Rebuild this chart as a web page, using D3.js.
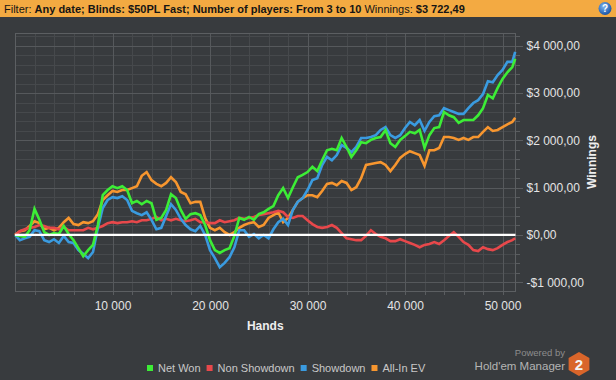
<!DOCTYPE html>
<html>
<head>
<meta charset="utf-8">
<script src="https://cdn.jsdelivr.net/npm/d3@7"></script>
<style>
body { margin: 0; background: #383b3e; }
svg { display: block; font-family: "Liberation Sans", Arial, sans-serif; }
</style>
</head>
<body>
<script>
// hands played, one point every 500 hands
var hands = d3.range(0, 51001, 500).concat([51300]);

var netWon = [
    0, -20, -40, 100, 550, 320, 60, 0, 40, 20,
    190, 20, -110, -280, -450, -320, -210, 210, 840, 950,
    1030, 990, 1030, 950, 670, 720, 650, 720, 670, 320,
    360, 530, 860, 780, 530, 340, 440, 460, 420, 210,
    -110, -320, -380, -320, -280, -20, 360, 320, 380, 320,
    440, 480, 550, 610, 840, 990, 780, 1010, 1220, 1270,
    1330, 1440, 1350, 1580, 1790, 1820, 1790, 2050, 1860, 1650,
    1790, 1960, 1940, 2010, 2050, 2070, 2220, 1940, 1860, 2010,
    2090, 2180, 2150, 2220, 1840, 2110, 2260, 2280, 2600, 2530,
    2490, 2370, 2430, 2430, 2430, 2530, 2680, 2960, 2890, 3110,
    3300, 3440, 3550, 3722.49
];
var nonShowdown = [
    0, 80, 120, 150, 170, 210, 190, 150, 150, 120,
    170, 100, 100, 100, 100, 150, 120, 150, 190, 250,
    270, 250, 270, 270, 290, 270, 310, 310, 340, 380,
    310, 340, 310, 340, 310, 290, 310, 340, 270, 270,
    250, 250, 310, 270, 290, 310, 360, 340, 360, 380,
    420, 440, 460, 480, 510, 480, 380, 360, 400, 400,
    310, 230, 170, 150, 170, 210, 150, 40, -70, -90,
    -110, -110, -20, 100, 20, -40, -70, -130, -130, -90,
    -130, -170, -210, -260, -210, -190, -150, -190, -110, -20,
    60, -40, -150, -210, -320, -340, -260, -300, -320, -280,
    -210, -150, -110, -70
];
var showdown = [
    0, -110, -70, -40, 100, 80, -110, -150, -90, -170,
    -20, -150, -170, -320, -400, -490, -360, 150, 570, 740,
    800, 780, 820, 740, 510, 460, 420, 480, 320, 120,
    150, 400, 650, 530, 340, 210, 120, 80, 190, 0,
    -320, -490, -680, -590, -470, -260, 100, 100, -40, 20,
    -70, 0, -70, 120, 270, 340, 210, 530, 700, 780,
    950, 1160, 1200, 1480, 1650, 1580, 1690, 1900, 1840, 1750,
    1860, 2050, 2050, 2070, 2110, 2220, 2280, 2110, 2050, 2110,
    2260, 2390, 2320, 2430, 2200, 2390, 2510, 2530, 2680, 2640,
    2600, 2560, 2560, 2680, 2790, 2850, 2980, 3250, 3230, 3380,
    3490, 3660, 3660, 3870
];
var allInEv = [
    0, 80, 100, 190, 290, 250, 120, 150, 100, 150,
    270, 360, 230, 210, 270, 250, 290, 440, 740, 840,
    930, 910, 950, 950, 990, 1030, 1250, 1330, 1160, 1080,
    1030, 1100, 1220, 1120, 910, 860, 670, 700, 700, 360,
    150, 100, 150, 60, 0, 60, 150, 210, 250, 270,
    170, 210, 360, 420, 480, 270, 360, 530, 700, 780,
    840, 840, 800, 930, 1080, 1100, 1050, 1140, 1100, 950,
    1010, 1200, 1480, 1500, 1520, 1540, 1480, 1350, 1480, 1630,
    1710, 1770, 1730, 1690, 1460, 1790, 1790, 1840, 2070, 2070,
    2050, 2010, 2050, 2010, 2070, 2070, 2180, 2280, 2200, 2220,
    2280, 2340, 2390, 2480
];

var seriesNames = ["Net Won", "Non Showdown", "Showdown", "All-In EV"];
var seriesValues = [netWon, nonShowdown, showdown, allInEv];
var seriesColors = ["#3ced36", "#e8484b", "#3a9be0", "#f7962f"];
var drawOrder = [3, 1, 2, 0];

var xTicks = [10000, 20000, 30000, 40000, 50000];
var yTicks = [-1000, 0, 1000, 2000, 3000, 4000];

var filterLabel = "Filter: ";
var filterText = "Any date; Blinds: $50PL Fast; Number of players: From 3 to 10";
var winningsLabel = " Winnings: ";
var winningsText = "$3 722,49";

var width = 616;
var height = 380;
var plot = { left: 15, right: 515.5, top: 33, bottom: 291 };

var locale = d3.formatLocale({
    decimal: ",", thousands: " ", grouping: [3], currency: ["$", ""], minus: "-"
});
var fmtMoney = locale.format("$,.2f");
var fmtHands = locale.format(",d");

var svg = d3.select("body")
    .append("svg")
    .attr("width", width)
    .attr("height", height);

svg.append("rect")
    .attr("width", width)
    .attr("height", height)
    .attr("fill", "#383b3e");

// header bar
svg.append("rect")
    .attr("width", width)
    .attr("height", 17)
    .attr("fill", "#f3aa42");

var hdr = svg.append("text")
    .attr("x", 4)
    .attr("y", 12.5)
    .attr("font-size", 11)
    .attr("fill", "#151515");
hdr.append("tspan").text(filterLabel);
hdr.append("tspan").attr("font-weight", "bold").text(filterText);
hdr.append("tspan").text(winningsLabel);
hdr.append("tspan").attr("font-weight", "bold").text(winningsText);

var grad = svg.append("defs").append("radialGradient")
    .attr("id", "help").attr("cx", "40%").attr("cy", "35%").attr("r", "65%");
grad.append("stop").attr("offset", "0%").attr("stop-color", "#7fb6f0");
grad.append("stop").attr("offset", "100%").attr("stop-color", "#1a55a6");
svg.append("circle")
    .attr("cx", 605).attr("cy", 8.5).attr("r", 6.5)
    .attr("fill", "url(#help)");
svg.append("text")
    .attr("x", 605).attr("y", 12)
    .attr("text-anchor", "middle")
    .attr("font-size", 10)
    .attr("font-weight", "bold")
    .attr("fill", "#fff")
    .text("?");

var xScale = d3.scaleLinear()
    .domain([0, 51330])
    .range([plot.left, plot.right]);

var yScale = d3.scaleLinear()
    .domain([-1185, 4270])
    .range([plot.bottom, plot.top]);

var minorX = d3.range(2000, 51001, 2000);
var minorY = d3.range(-1000, 4201, 200);
var pw = plot.right - plot.left;
var ph = plot.bottom - plot.top;

// gridlines
svg.append("g")
    .attr("class", "grid")
    .attr("transform", "translate(0," + plot.bottom + ")")
    .call(d3.axisBottom(xScale).tickValues(minorX).tickSize(-ph).tickFormat(""))
    .attr("data-c", "#46494c");

svg.append("g")
    .attr("class", "grid")
    .attr("transform", "translate(" + plot.right + ",0)")
    .call(d3.axisRight(yScale).tickValues(minorY).tickSize(-pw).tickFormat(""))
    .attr("data-c", "#46494c");

svg.append("g")
    .attr("class", "grid")
    .attr("transform", "translate(0," + plot.bottom + ")")
    .call(d3.axisBottom(xScale).tickValues(xTicks).tickSize(-ph).tickFormat(""))
    .attr("data-c", "#56595c");

svg.append("g")
    .attr("class", "grid")
    .attr("transform", "translate(" + plot.right + ",0)")
    .call(d3.axisRight(yScale).tickValues(yTicks).tickSize(-pw).tickFormat(""))
    .attr("data-c", "#56595c");

svg.selectAll(".grid").each(function () {
    var g = d3.select(this);
    g.select(".domain").remove();
    g.selectAll("line").attr("stroke", g.attr("data-c")).attr("shape-rendering", "crispEdges");
});

// outer ticks + labels
var xAxisMinor = svg.append("g")
    .attr("transform", "translate(0," + plot.bottom + ")")
    .call(d3.axisBottom(xScale).tickValues(minorX).tickSize(4).tickFormat(""));
var xAxis = svg.append("g")
    .attr("transform", "translate(0," + plot.bottom + ")")
    .call(d3.axisBottom(xScale).tickValues(xTicks).tickSize(4).tickPadding(6)
        .tickFormat(function (d) { return fmtHands(d); }));
var yAxisMinor = svg.append("g")
    .attr("transform", "translate(" + plot.right + ",0)")
    .call(d3.axisRight(yScale).tickValues(minorY).tickSize(4).tickFormat(""));
var yAxis = svg.append("g")
    .attr("transform", "translate(" + plot.right + ",0)")
    .call(d3.axisRight(yScale).tickValues(yTicks).tickSize(7).tickPadding(4)
        .tickFormat(function (d) { return fmtMoney(d); }));

[xAxisMinor, xAxis, yAxisMinor, yAxis].forEach(function (a) {
    a.select(".domain").remove();
    a.selectAll("line").attr("stroke", "#5a5d60").attr("shape-rendering", "crispEdges");
    a.selectAll("text")
        .attr("fill", "#e4e4e4")
        .attr("font-size", 12)
        .attr("font-family", "Liberation Sans, Arial, sans-serif");
});

// plot border
svg.append("rect")
    .attr("x", plot.left)
    .attr("y", plot.top)
    .attr("width", pw)
    .attr("height", ph)
    .attr("fill", "none")
    .attr("stroke", "#5c5f62")
    .attr("shape-rendering", "crispEdges");

// series
var line = d3.line()
    .x(function (d, i) { return xScale(hands[i]); })
    .y(function (d) { return yScale(d); });

drawOrder.forEach(function (s) {
    svg.append("path")
        .datum(seriesValues[s])
        .attr("d", line)
        .attr("fill", "none")
        .attr("stroke", seriesColors[s])
        .attr("stroke-width", 2.6)
        .attr("stroke-linejoin", "miter");
});

// zero line
svg.append("line")
    .attr("x1", plot.left)
    .attr("x2", plot.right)
    .attr("y1", yScale(0))
    .attr("y2", yScale(0))
    .attr("stroke", "#ffffff")
    .attr("stroke-width", 2.2);

// axis titles
svg.append("text")
    .attr("x", (plot.left + plot.right) / 2)
    .attr("y", 330)
    .attr("text-anchor", "middle")
    .attr("font-size", 12)
    .attr("font-weight", "bold")
    .attr("fill", "#eeeeee")
    .text("Hands");

svg.append("text")
    .attr("transform", "translate(596," + ((plot.top + plot.bottom) / 2) + ") rotate(-90)")
    .attr("text-anchor", "middle")
    .attr("font-size", 12)
    .attr("font-weight", "bold")
    .attr("fill", "#eeeeee")
    .text("Winnings");

// legend
var legend = svg.append("g").attr("transform", "translate(147,0)");
var lx = 0;
seriesNames.forEach(function (name, i) {
    legend.append("rect")
        .attr("x", lx)
        .attr("y", 365)
        .attr("width", 6)
        .attr("height", 6)
        .attr("fill", seriesColors[i]);
    var t = legend.append("text")
        .attr("x", lx + 11)
        .attr("y", 372)
        .attr("font-size", 11)
        .attr("fill", "#c8c8c8")
        .text(name);
    lx += 11 + t.node().getComputedTextLength() + 6;
});

// logo
svg.append("text")
    .attr("x", 565).attr("y", 356)
    .attr("text-anchor", "end")
    .attr("font-size", 9.5)
    .attr("fill", "#8d8d8d")
    .text("Powered by");
svg.append("text")
    .attr("x", 565).attr("y", 370)
    .attr("text-anchor", "end")
    .attr("font-size", 11.5)
    .attr("fill", "#b4b4b4")
    .text("Hold'em Manager");

var hex = d3.range(6).map(function (i) {
    var a = Math.PI / 3 * i - Math.PI / 2;
    return [579 + 12 * Math.cos(a), 364 + 12 * Math.sin(a)];
});
svg.append("path")
    .attr("d", "M" + hex.join("L") + "Z")
    .attr("fill", "#d9652a");
svg.append("text")
    .attr("x", 579).attr("y", 369.5)
    .attr("text-anchor", "middle")
    .attr("font-size", 15)
    .attr("font-weight", "bold")
    .attr("fill", "#f4f4f4")
    .text("2");
</script>
</body>
</html>
